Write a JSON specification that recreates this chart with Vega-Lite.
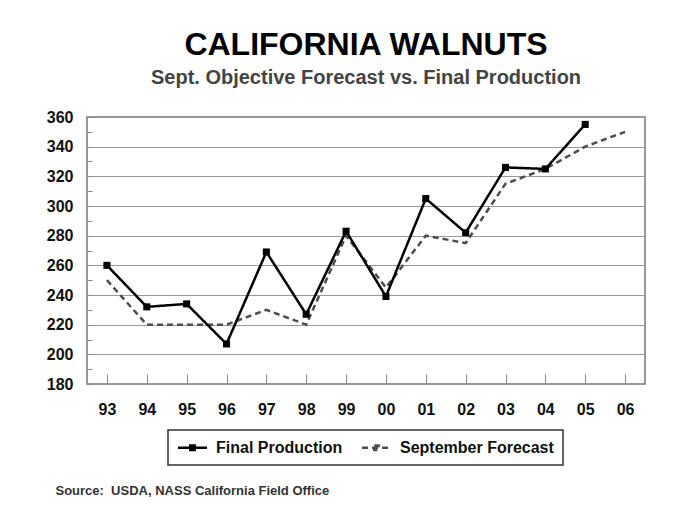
{
  "$schema": "https://vega.github.io/schema/vega-lite/v6.json",
  "autosize": {"type": "none"},
  "padding": {"left": 87, "top": 117, "right": 41, "bottom": 145},
  "width": 558,
  "height": 267,
  "background": "white",
  "title": {
    "text": "CALIFORNIA WALNUTS",
    "subtitle": "Sept. Objective Forecast vs. Final Production",
    "anchor": "middle",
    "font": "Liberation Sans",
    "fontSize": 32,
    "fontWeight": "bold",
    "color": "#000000",
    "subtitleFont": "Liberation Sans",
    "subtitleFontSize": 20,
    "subtitleFontWeight": "bold",
    "subtitleColor": "#444444",
    "subtitlePadding": 6,
    "offset": 20
  },
  "data": {
    "values": [
      {"year": "93", "series": "September Forecast", "value": 250},
      {"year": "94", "series": "September Forecast", "value": 220},
      {"year": "95", "series": "September Forecast", "value": 220},
      {"year": "96", "series": "September Forecast", "value": 220},
      {"year": "97", "series": "September Forecast", "value": 230},
      {"year": "98", "series": "September Forecast", "value": 220},
      {"year": "99", "series": "September Forecast", "value": 280},
      {"year": "00", "series": "September Forecast", "value": 245},
      {"year": "01", "series": "September Forecast", "value": 280},
      {"year": "02", "series": "September Forecast", "value": 275},
      {"year": "03", "series": "September Forecast", "value": 315},
      {"year": "04", "series": "September Forecast", "value": 325},
      {"year": "05", "series": "September Forecast", "value": 340},
      {"year": "06", "series": "September Forecast", "value": 350},
      {"year": "93", "series": "Final Production", "value": 260},
      {"year": "94", "series": "Final Production", "value": 232},
      {"year": "95", "series": "Final Production", "value": 234},
      {"year": "96", "series": "Final Production", "value": 207},
      {"year": "97", "series": "Final Production", "value": 269},
      {"year": "98", "series": "Final Production", "value": 227},
      {"year": "99", "series": "Final Production", "value": 283},
      {"year": "00", "series": "Final Production", "value": 239},
      {"year": "01", "series": "Final Production", "value": 305},
      {"year": "02", "series": "Final Production", "value": 282},
      {"year": "03", "series": "Final Production", "value": 326},
      {"year": "04", "series": "Final Production", "value": 325},
      {"year": "05", "series": "Final Production", "value": 355}
    ]
  },
  "encoding": {
    "x": {
      "field": "year",
      "type": "ordinal",
      "scale": {"domain": ["93","94","95","96","97","98","99","00","01","02","03","04","05","06"]},
      "axis": {
        "title": "Source:\u00a0 USDA, NASS California Field Office",
        "titleFont": "Liberation Sans",
        "titleFontSize": 13,
        "titleFontWeight": "bold",
        "titleColor": "#333333",
        "titleAnchor": "start",
        "titleAlign": "left",
        "titleBaseline": "middle",
        "titleX": -32,
        "titleY": 106,
        "labelAngle": 0,
        "labelFont": "Liberation Sans",
        "labelFontSize": 16,
        "labelFontWeight": "bold",
        "labelColor": "#111111",
        "labelPadding": 27,
        "tickSize": -10,
        "tickColor": "#888888",
        "tickWidth": 1,
        "domain": false,
        "grid": false
      }
    },
    "y": {
      "field": "value",
      "type": "quantitative",
      "scale": {"domain": [180, 360], "nice": false, "zero": false},
      "axis": {
        "title": null,
        "values": [180,190,200,210,220,230,240,250,260,270,280,290,300,310,320,330,340,350,360],
        "labelExpr": "datum.value % 20 === 0 ? datum.label : ''",
        "labelFont": "Liberation Sans",
        "labelFontSize": 16,
        "labelFontWeight": "bold",
        "labelColor": "#111111",
        "labelPadding": 19,
        "tickSize": -5,
        "tickColor": "#888888",
        "domain": false,
        "grid": true,
        "gridColor": "#999999",
        "gridWidth": 1,
        "gridOpacity": {"condition": {"test": "datum.value % 20 !== 0", "value": 0}, "value": 1}
      }
    },
    "color": {
      "field": "series",
      "type": "nominal",
      "scale": {"domain": ["Final Production", "September Forecast"], "range": ["#000000", "#4d4d4d"]},
      "legend": {
        "title": null,
        "orient": "none",
        "legendX": 81,
        "legendY": 313,
        "direction": "horizontal",
        "strokeColor": "#333333",
        "padding": 9,
        "columnPadding": 14,
        "labelFont": "Liberation Sans",
        "labelFontSize": 16,
        "labelFontWeight": "bold",
        "labelColor": "#111111",
        "labelOffset": 15,
        "symbolOffset": 7,
        "symbolType": "M-2,0H2M-0.3,-0.3H0.3V0.3H-0.3Z",
        "symbolSize": 210,
        "symbolStrokeWidth": 2.5,
        "encode": {"legend": {"update": {"strokeWidth": {"value": 1.5}}}}
      }
    },
    "strokeDash": {
      "field": "series",
      "type": "nominal",
      "scale": {"domain": ["Final Production", "September Forecast"], "range": [[1, 0], [6, 4]]},
      "legend": null
    }
  },
  "layer": [
    {
      "transform": [{"filter": "datum.series === 'September Forecast'"}],
      "mark": {"type": "line", "strokeWidth": 2.5}
    },
    {
      "transform": [{"filter": "datum.series === 'Final Production'"}],
      "mark": {"type": "line", "strokeWidth": 2.5}
    },
    {
      "transform": [{"filter": "datum.series === 'Final Production'"}],
      "mark": {"type": "point", "shape": "square", "filled": true, "size": 50, "opacity": 1},
      "encoding": {"color": {"value": "#000000"}, "strokeDash": {"value": [1, 0]}}
    }
  ],
  "config": {
    "view": {"stroke": "#777777", "strokeWidth": 1.5},
    "font": "Liberation Sans"
  }
}
